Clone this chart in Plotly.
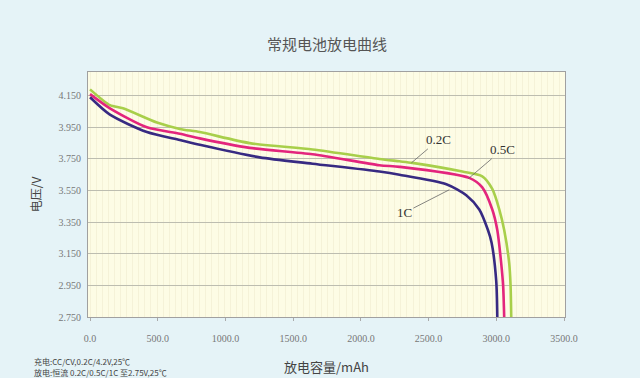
import plotly.graph_objects as go

# Data
cap_02c = [0, 147, 243, 494, 663, 810, 1179, 1643, 2137, 2285, 2380, 2749, 2896, 2970, 3022, 3058, 3095, 3105, 3110]
volt_02c = [4.19, 4.09, 4.07, 3.98, 3.94, 3.92, 3.85, 3.81, 3.75, 3.735, 3.725, 3.67, 3.64, 3.56, 3.43, 3.30, 3.09, 2.95, 2.75]

cap_05c = [0, 147, 420, 663, 810, 1179, 1643, 2137, 2285, 2800, 2896, 2970, 3007, 3036, 3050, 3058]
volt_05c = [4.16, 4.07, 3.95, 3.91, 3.88, 3.82, 3.78, 3.71, 3.70, 3.63, 3.57, 3.43, 3.30, 3.09, 2.95, 2.75]

cap_1c = [0, 147, 420, 663, 810, 1253, 1643, 2137, 2285, 2631, 2778, 2874, 2938, 2965, 2999, 3007]
volt_1c = [4.14, 4.03, 3.92, 3.87, 3.84, 3.76, 3.72, 3.67, 3.65, 3.59, 3.52, 3.43, 3.30, 3.22, 2.98, 2.75]

x_ticks = [0, 500, 1000, 1500, 2000, 2500, 3000, 3500]
x_tick_labels = ["0.0", "500.0", "1000.0", "1500.0", "2000.0", "2500.0", "3000.0", "3500.0"]
y_ticks = [2.75, 2.95, 3.15, 3.35, 3.55, 3.75, 3.95, 4.15]
y_tick_labels = ["2.750", "2.950", "3.150", "3.350", "3.550", "3.750", "3.950", "4.150"]

title_text = "常规电池放电曲线"
x_title = "放电容量/mAh"
y_title = "电压/V"
note_lines = ["充电:CC/CV,0.2C/4.2V,25℃", "放电:恒流 0.2C/0.5C/1C 至2.75V,25℃"]

series = [
    ("0.2C", cap_02c, volt_02c, "#a8cf4a"),
    ("0.5C", cap_05c, volt_05c, "#e3257d"),
    ("1C", cap_1c, volt_1c, "#372a82"),
]

serif = "Liberation Serif, DejaVu Serif, serif"
cjk = "Noto Sans CJK SC, sans-serif"
paper = "#e5f3f7"

fig = go.Figure()
for name, xs, ys, color in series:
    fig.add_trace(go.Scatter(
        x=xs, y=ys, mode="lines", name=name,
        line=dict(color=color, width=2.6, shape="spline", smoothing=0.7),
        showlegend=False,
    ))

# callout labels
callouts = [
    ("0.2C", 2373, 3.725, 27, -23),
    ("0.5C", 2793, 3.625, 34, -29),
    ("1C", 2653, 3.555, -45, 23),
]
for text, xv, yv, ax, ay in callouts:
    fig.add_annotation(
        x=xv, y=yv, text=text, showarrow=True, arrowhead=0, arrowwidth=0.8,
        arrowcolor="#666666", ax=ax, ay=ay,
        font=dict(family=serif, size=13, color="#333333"),
    )

fig.add_annotation(
    xref="paper", yref="paper", x=0.5, y=1.0, yshift=16, text=title_text,
    showarrow=False, xanchor="center", yanchor="bottom",
    font=dict(family=cjk, size=15, color="#555555"),
)
fig.add_annotation(
    xref="paper", yref="paper", x=0.5, y=0, yshift=-38, text=x_title,
    showarrow=False, xanchor="center", yanchor="top",
    font=dict(family=cjk, size=13, color="#444444"),
)
for i, line in enumerate(note_lines):
    fig.add_annotation(
        xref="paper", yref="paper", x=0, xshift=-55, y=0, yshift=-44.5 - i * 10.5,
        text=line, showarrow=False, xanchor="left", yanchor="middle",
        font=dict(family=cjk, size=8, color="#444444"), borderpad=0,
    )

fig.update_layout(
    width=640, height=378,
    margin=dict(l=88, r=75, t=72, b=61),
    paper_bgcolor=paper,
    plot_bgcolor="#fdfce5",
    showlegend=False,
    xaxis=dict(
        range=[-15, 3507],
        tickvals=x_ticks, ticktext=x_tick_labels,
        tickfont=dict(family=serif, size=10, color="#777777"),
        ticks="outside", ticklen=3, tickcolor="#aaaaaa",
        ticklabelstandoff=9,
        showgrid=False,
        minor=dict(dtick=45, tick0=0, showgrid=True, gridcolor="#f5f2d8", gridwidth=1),
        showline=True, linecolor="#a0a0a0", linewidth=1, mirror=True,
        zeroline=False,
    ),
    yaxis=dict(
        range=[2.75, 4.30],
        tickvals=y_ticks, ticktext=y_tick_labels,
        tickfont=dict(family=serif, size=10, color="#777777"),
        ticks="", ticklabelstandoff=4,
        showgrid=True, gridcolor="#bdbdb0", gridwidth=1,
        showline=True, linecolor="#a0a0a0", linewidth=1, mirror=True,
        zeroline=False,
        title=dict(text=y_title, font=dict(family=cjk, size=12, color="#444444"), standoff=14),
    ),
)

fig.write_html(
    "out.html",
    config={"displayModeBar": False},
    post_script="document.body.style.margin='0';document.body.style.background='%s';" % paper,
)
